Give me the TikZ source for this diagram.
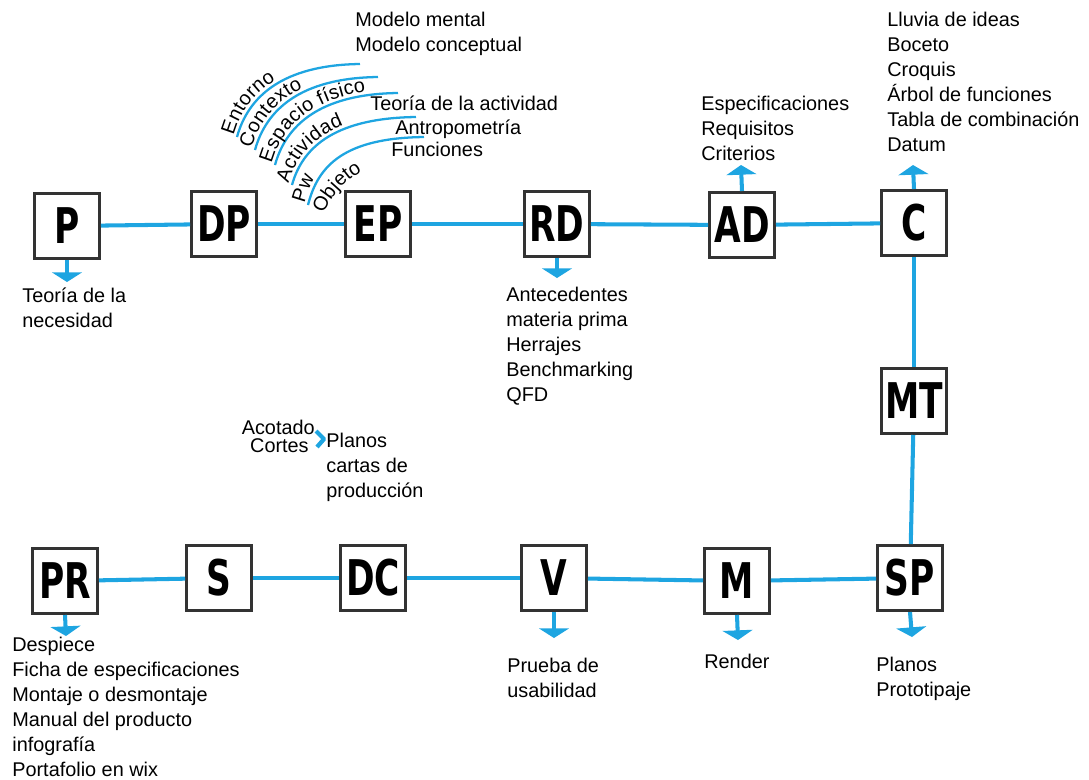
\documentclass[tikz,border=0pt]{standalone}
\usepackage{fontspec}
\setmainfont{Liberation Sans}
\newfontfamily\stagefont[FakeStretch=0.7]{DejaVu Sans}
\usetikzlibrary{arrows.meta,decorations.text}
\definecolor{lineblue}{RGB}{30,165,225}
\definecolor{boxgray}{RGB}{51,51,51}

\begin{document}
\begin{tikzpicture}[x=0.02cm,y=-0.02cm,
  stage/.style={draw=boxgray,line width=1.7pt,fill=white,minimum size=1.3cm,inner sep=0pt,font=\stagefont\bfseries\fontsize{28}{28}\selectfont},
  link/.style={lineblue,line width=2.3pt},
  outarrow/.style={lineblue,line width=2.3pt,-{Triangle[width=17pt,length=5.5pt]}},
  note/.style={anchor=north west,inner sep=0pt,align=left,font=\fontsize{11.3}{14.2}\selectfont},
  arcline/.style={lineblue,line width=1.3pt},
  arcword/.style 2 args={postaction={decorate,decoration={text along path,raise=#2,text={|\fontsize{11.3}{14}\selectfont|#1}}}}]
  \useasboundingbox (0,0) rectangle (1089,779);
  % top row
  \node[stage] (P) at (67,226) {P};
  \node[stage] (DP) at (224,224) {DP};
  \node[stage] (EP) at (378,224) {EP};
  \node[stage] (RD) at (557,224) {RD};
  \node[stage] (AD) at (742,225) {AD};
  \node[stage] (C) at (914,223) {C};
  \node[stage] (MT) at (914,401) {MT};
  % bottom row
  \node[stage] (SP) at (910,578) {SP};
  \node[stage] (M) at (737,581) {M};
  \node[stage] (V) at (554,578) {V};
  \node[stage] (DC) at (373,578) {DC};
  \node[stage] (S) at (219,578) {S};
  \node[stage] (PR) at (65,581) {PR};
  \draw[link] (P) -- (DP);
  \draw[link] (DP) -- (EP);
  \draw[link] (EP) -- (RD);
  \draw[link] (RD) -- (AD);
  \draw[link] (AD) -- (C);
  \draw[link] (C) -- (MT);
  \draw[link] (MT) -- (SP);
  \draw[link] (SP) -- (M);
  \draw[link] (M) -- (V);
  \draw[link] (V) -- (DC);
  \draw[link] (DC) -- (S);
  \draw[link] (S) -- (PR);
  % arrow ends
  \coordinate (Pout) at (67,282);
  \coordinate (RDout) at (557,278);
  \coordinate (ADout) at (741,165);
  \coordinate (Cout) at (913,165);
  \coordinate (SPout) at (912,637);
  \coordinate (Mout) at (738,640);
  \coordinate (Vout) at (554,638);
  \coordinate (PRout) at (66,636);
  \draw[outarrow] (P.south) -- (Pout);
  \draw[outarrow] (RD.south) -- (RDout);
  \draw[outarrow] (AD.north) -- (ADout);
  \draw[outarrow] (C.north) -- (Cout);
  \draw[outarrow] (SP.south) -- (SPout);
  \draw[outarrow] (M.south) -- (Mout);
  \draw[outarrow] (V.south) -- (Vout);
  \draw[outarrow] (PR.south) -- (PRout);
  % texts
  \node[note] (need) at (22,288) {Teoría de la\\necesidad};
  \node[note] (ante) at (506,287) {Antecedentes\\materia prima\\Herrajes\\Benchmarking\\QFD};
  \node[note] (spec) at (701,96) {Especificaciones\\Requisitos\\Criterios};
  \node[note] (ideas) at (887,12) {Lluvia de ideas\\Boceto\\Croquis\\Árbol de funciones\\Tabla de combinación\\Datum};
  \node[note] (model) at (355,12) {Modelo mental\\Modelo conceptual};
  \node[note] (tact) at (370,96) {Teoría de la actividad};
  \node[note] (antro) at (395,120) {Antropometría};
  \node[note] (func) at (391,142) {Funciones};
  \node[note] (plan) at (326,433) {Planos\\cartas de\\producción};
  \node[note,anchor=north east] (acot) at (315,420) {Acotado};
  \node[note,anchor=north east] (cort) at (309,438) {Cortes};
  \node[note] (desp) at (12,637) {Despiece\\Ficha de especificaciones\\Montaje o desmontaje\\Manual del producto\\infografía\\Portafolio en wix};
  \node[note] (prue) at (507,658) {Prueba de\\usabilidad};
  \node[note] (rend) at (704,654) {Render};
  \node[note] (proto) at (876,657) {Planos\\Prototipaje};
  % bracket
  \coordinate (brA) at (316,431);
  \coordinate (brB) at (324,439);
  \coordinate (brC) at (317,447);
  \draw[lineblue,line width=2.4pt,line join=round] (brA) -- (brB) -- (brC);
  % arcs around EP
  \draw[arcline,arcword={Entorno}{2pt}] (237,137) .. controls (248,97) and (282,65) .. (360,64);
  \draw[arcline,arcword={Contexto}{2pt}] (255,150) .. controls (266,110) and (300,78) .. (378,77);
  \draw[arcline,arcword={Espacio físico}{2pt}] (275,165) .. controls (286,125) and (320,94) .. (398,93);
  \draw[arcline,arcword={Actividad}{2pt}] (292,185) .. controls (303,145) and (338,118) .. (416,117);
  \draw[arcline,arcword={Pw}{2pt}] (308,205) .. controls (318,165) and (345,138) .. (424,137);
  \path[arcword={Objeto}{0pt}] (324,214) .. controls (332,193) and (348,176) .. (380,162);
\end{tikzpicture}
\end{document}
